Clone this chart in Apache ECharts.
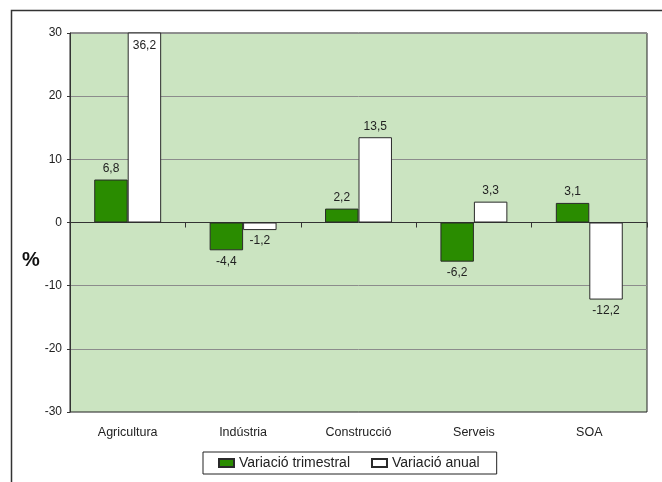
<!DOCTYPE html>
<html><head><meta charset="utf-8">
<script src="https://cdn.jsdelivr.net/npm/echarts@6/dist/echarts.min.js"></script>
<style>html,body{margin:0;padding:0;background:#fff}#c{width:662px;height:482px}</style>
</head><body><div id="c"></div>
<script>
var categories = ['Agricultura', 'Indústria', 'Construcció', 'Serveis', 'SOA'];
var trimestral = [6.8, -4.4, 2.2, -6.2, 3.1];
var anual = [36.2, -1.2, 13.5, 3.3, -12.2];
var yTicks = [-30, -20, -10, 0, 10, 20, 30];
var seriesNames = ['Variació trimestral', 'Variació anual'];

var font = 'Arial, "Liberation Sans", sans-serif';
function fmt(p) { return String(p.value).replace('.', ','); }
function labelFor(v, isClippedTop) {
  if (isClippedTop) return { show: true, position: 'insideTop', distance: 7 };
  return { show: true, position: v >= 0 ? 'top' : 'bottom', distance: 5 };
}
function buildData(arr) {
  return arr.map(function (v) {
    return { value: v, label: labelFor(v, v > yTicks[yTicks.length - 1]) };
  });
}

var chart = echarts.init(document.getElementById('c'));
chart.setOption({
  animation: false,
  backgroundColor: '#fff',
  textStyle: { fontFamily: font },
  grid: {
    left: 70, right: 15, top: 33, bottom: 70,
    show: true, backgroundColor: '#CBE4C1', borderColor: '#222', borderWidth: 1
  },
  legend: {
    data: seriesNames,
    left: 203, top: 452,
    itemWidth: 15, itemHeight: 8, itemGap: 21,
    padding: [4, 17, 4, 15],
    borderColor: '#222', borderWidth: 1,
    icon: 'rect',
    textStyle: { fontFamily: font, fontSize: 14, color: '#222' }
  },
  xAxis: [{
    type: 'category', data: categories,
    axisLine: { onZero: true, lineStyle: { color: '#333', width: 1 } },
    axisTick: { show: true, length: 5, lineStyle: { color: '#333' } },
    axisLabel: { show: false },
    splitLine: { show: false }
  }, {
    type: 'category', data: categories, position: 'bottom',
    axisLine: { show: false, onZero: false }, axisTick: { show: false },
    axisLabel: { show: true, margin: 14, fontFamily: font, fontSize: 12.5, color: '#222' },
    splitLine: { show: false }
  }],
  yAxis: {
    type: 'value', min: yTicks[0], max: yTicks[yTicks.length - 1], interval: 10,
    axisLine: { show: true, lineStyle: { color: '#333' } },
    axisTick: { show: true, length: 3, lineStyle: { color: '#333' } },
    axisLabel: { margin: 8, fontFamily: font, fontSize: 12, color: '#222' },
    splitLine: { show: true, lineStyle: { color: '#8c8c8c', width: 1 } }
  },
  graphic: [
    { type: 'rect', shape: { x: 11.5, y: 10.5, width: 700, height: 600 }, style: { fill: 'none', stroke: '#333', lineWidth: 1.5 }, silent: true },
    { type: 'text', left: 22, top: 250, style: { text: '%', font: 'bold 20px ' + font, fill: '#111' } }
  ],
  series: [{
    name: seriesNames[0], type: 'bar', xAxisIndex: 0,
    data: buildData(trimestral),
    barGap: '0%', barCategoryGap: '42%', clip: true,
    itemStyle: { color: '#2A8C00', borderColor: '#2a2a2a', borderWidth: 1 },
    label: { formatter: fmt, fontFamily: font, fontSize: 12, color: '#222' }
  }, {
    name: seriesNames[1], type: 'bar', xAxisIndex: 0,
    data: buildData(anual),
    barGap: '0%', barCategoryGap: '42%', clip: true,
    itemStyle: { color: '#ffffff', borderColor: '#2a2a2a', borderWidth: 1 },
    label: { formatter: fmt, fontFamily: font, fontSize: 12, color: '#222' }
  }]
});
</script></body></html>
